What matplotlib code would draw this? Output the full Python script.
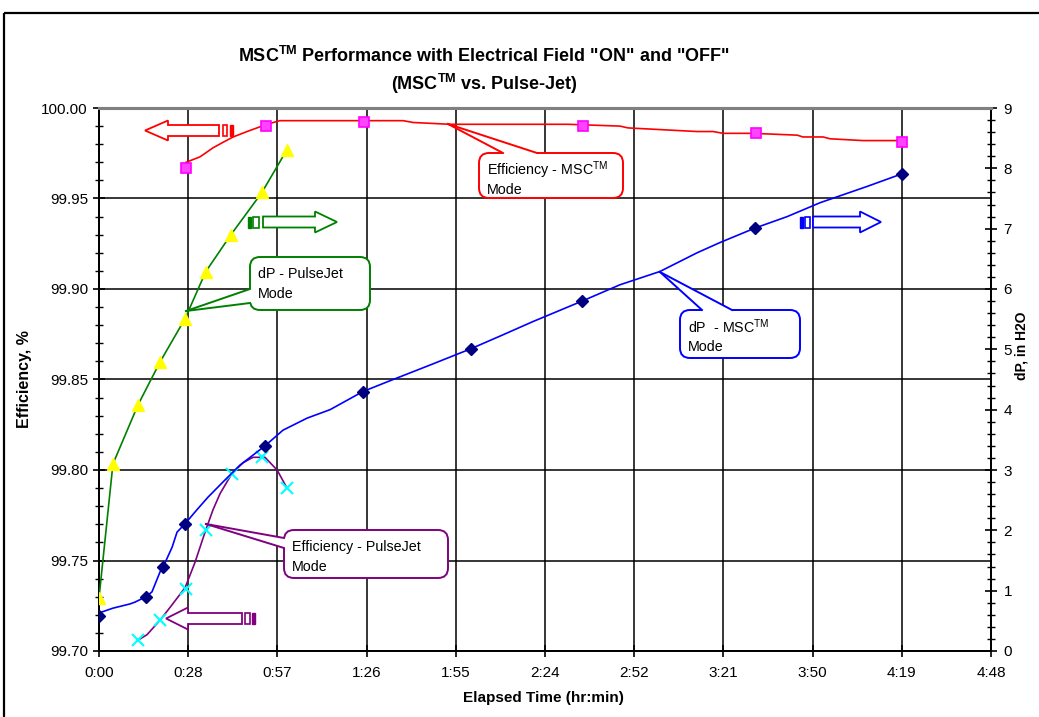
import numpy as np
import matplotlib
matplotlib.use('Agg')
import matplotlib.pyplot as plt
import matplotlib.transforms as mtransforms
from matplotlib.patches import FancyBboxPatch, Polygon, Rectangle
from matplotlib.lines import Line2D
from matplotlib.ticker import MultipleLocator, FixedLocator

plt.rcParams['font.family'] = ['Liberation Sans', 'DejaVu Sans']
plt.rcParams['mathtext.default'] = 'regular'

# elapsed time in minutes
# Efficiency - MSC mode (trace)
msc_eff_t = [28.1, 32.6, 36.8, 40.0, 43.3, 47.8, 54.2, 58.4, 98.2, 101.4, 113.3, 151.4,
             168.2, 170.8, 193.1, 198.3, 201.5, 211.2, 225.4, 227.3, 233.8, 236.0, 246.7, 259.3]
msc_eff = [99.970, 99.973, 99.978, 99.981, 99.984, 99.987, 99.991, 99.993, 99.993, 99.992,
           99.991, 99.991, 99.990, 99.989, 99.987, 99.987, 99.986, 99.986, 99.985, 99.984,
           99.984, 99.983, 99.982, 99.982]
msc_eff_mk_t = [28.1, 53.9, 85.6, 156.3, 212.0, 259.3]
msc_eff_mk = [99.967, 99.990, 99.992, 99.990, 99.986, 99.981]

# dP - MSC mode (trace)
msc_dp_t = [0, 4.5, 10, 11.6, 15.2, 17.1, 19.7, 21.3, 23.6, 25.2, 27.8, 31.6, 35.2, 40.0,
            45.5, 53.6, 59.4, 67.2, 74.6, 85.2, 93.0, 106.9, 120.1, 130.4, 140.1, 156.0,
            168.2, 181.1, 193.1, 200.5, 211.8, 222.2, 232.8, 248.0, 259.3]
msc_dp = [0.63, 0.71, 0.78, 0.81, 0.90, 0.98, 1.31, 1.46, 1.72, 1.97, 2.11, 2.34, 2.55, 2.80,
          3.08, 3.40, 3.66, 3.86, 4.00, 4.30, 4.46, 4.74, 5.01, 5.24, 5.46, 5.80, 6.07, 6.29,
          6.60, 6.77, 7.01, 7.20, 7.43, 7.70, 7.91]
msc_dp_mk_t = [0, 15.2, 20.7, 27.8, 53.6, 85.2, 120.1, 156.0, 211.8, 259.3]
msc_dp_mk = [0.58, 0.90, 1.39, 2.11, 3.40, 4.30, 5.01, 5.80, 7.01, 7.91]

# dP - PulseJet mode
pj_dp_t = [0, 4.5, 12.6, 19.7, 27.8, 34.5, 42.6, 52.6, 60.7]
pj_dp = [0.88, 3.10, 4.08, 4.79, 5.51, 6.29, 6.90, 7.60, 8.31]

# Efficiency - PulseJet mode (trace)
pj_eff_t = [12.6, 15.5, 19.7, 22.9, 27.8, 31.0, 34.5, 36.8, 39.1, 42.9, 46.5, 49.7, 53.6, 57.5, 60.7]
pj_eff = [99.706, 99.709, 99.717, 99.724, 99.735, 99.749, 99.767, 99.778, 99.787, 99.798,
          99.804, 99.807, 99.807, 99.800, 99.790]
pj_eff_mk_t = [12.6, 19.7, 28.1, 34.5, 42.9, 52.6, 60.7]
pj_eff_mk = [99.706, 99.717, 99.734, 99.767, 99.798, 99.807, 99.790]

x_labels = ['0:00', '0:28', '0:57', '1:26', '1:55', '2:24', '2:52', '3:21', '3:50', '4:19', '4:48']

W, H = 1039, 717
fig = plt.figure(figsize=(W / 100, H / 100), dpi=100)
# reference pixel coordinates (y down) for decorations
px = mtransforms.Affine2D().scale(1 / W, -1 / H).translate(0, 1) + fig.transFigure

ax = fig.add_axes([99 / W, 1 - 651 / H, 892 / W, 543 / H])
ax2 = ax.twinx()

ax.set_xlim(0, 288)
ax.set_ylim(99.70, 100.00)
ax2.set_ylim(0, 9)

ax.xaxis.set_major_locator(FixedLocator([i * 28.8 for i in range(len(x_labels))]))
ax.set_xticklabels(x_labels)
ax.yaxis.set_major_locator(MultipleLocator(0.05))
ax.yaxis.set_minor_locator(MultipleLocator(0.01))
ax.yaxis.set_major_formatter(matplotlib.ticker.FormatStrFormatter('%.2f'))
ax2.yaxis.set_major_locator(MultipleLocator(1))
ax2.yaxis.set_minor_locator(MultipleLocator(0.2))

ax.grid(True, which='major', color='black', lw=1.1)
ax.set_axisbelow(True)
for a in (ax, ax2):
    for s in a.spines.values():
        s.set_linewidth(1.3)
        s.set_color('black')
    a.spines['top'].set_color('#808080')
    a.spines['top'].set_linewidth(2.2)
ax.tick_params(axis='x', which='major', direction='inout', length=8, width=1.2, labelsize=11, pad=7)
ax.tick_params(axis='y', which='major', direction='inout', length=8, width=1.2, labelsize=11, pad=4)
ax.tick_params(axis='y', which='minor', direction='inout', length=6, width=1.0)
ax2.tick_params(axis='y', which='major', direction='inout', length=8, width=1.2, labelsize=11, pad=5)
ax2.tick_params(axis='y', which='minor', direction='inout', length=6, width=1.0)

# data
ax.plot(msc_eff_t, msc_eff, color='#ff0000', lw=1.2, zorder=3)
ax.plot(msc_eff_mk_t, msc_eff_mk, ls='none', marker='s', ms=7.5, mfc='#ff44ff', mec='#ff00ff', mew=1.2, zorder=4)
ax.plot(pj_eff_t, pj_eff, color='#800080', lw=1.2, zorder=3)
ax.plot(pj_eff_mk_t, pj_eff_mk, ls='none', marker='x', ms=8, mec='#00ffff', mew=1.5, zorder=4)

ax2.plot(msc_dp_t, msc_dp, color='#0000ff', lw=1.2, zorder=3)
ax2.plot(msc_dp_mk_t, msc_dp_mk, ls='none', marker='D', ms=6.5, mfc='#000080', mec='#000080', zorder=4)
ax2.plot(pj_dp_t, pj_dp, color='#008000', lw=1.2, marker='^', ms=8, mfc='#ffff00', mec='#ffff00', zorder=4)

# titles
fig.text(484, 56, 'MSC$^{TM}$ Performance with Electrical Field "ON" and "OFF"', transform=px,
         ha='center', va='center', fontsize=13, fontweight='bold')
fig.text(484, 84, '(MSC$^{TM}$ vs. Pulse-Jet)', transform=px,
         ha='center', va='center', fontsize=13, fontweight='bold')
fig.text(543, 698, 'Elapsed Time (hr:min)', transform=px, ha='center', va='center',
         fontsize=11, fontweight='bold')
fig.text(25, 379, 'Efficiency, %', transform=px, ha='center', va='center', rotation=90,
         fontsize=11.5, fontweight='bold')
fig.text(1022, 346, 'dP, in H2O', transform=px, ha='center', va='center', rotation=90,
         fontsize=10, fontweight='bold')

# outer chart border
fig.add_artist(Rectangle((4, 13), 1100, 800, transform=px, fill=False, ec='black', lw=1.6))


def block_arrow(tip, neck, tail, yc, hb, hh, color, hollow, filled):
    pts = [(tip, yc), (neck, yc - hh), (neck, yc - hb), (tail, yc - hb),
           (tail, yc + hb), (neck, yc + hb), (neck, yc + hh)]
    fig.add_artist(Polygon(pts, closed=True, transform=px, fc='white', ec=color, lw=1.3))
    fig.add_artist(Rectangle((hollow[0], yc - hb), hollow[1] - hollow[0], 2 * hb, transform=px,
                             fc='white', ec=color, lw=1.2))
    fig.add_artist(Rectangle((filled[0], yc - hb), filled[1] - filled[0], 2 * hb, transform=px,
                             fc=color, ec=color, lw=1.0))


block_arrow(145, 168, 219, 130.5, 5.5, 10, '#ff0000', (223, 227), (230, 233))
block_arrow(337, 315, 263, 222, 5.5, 10.5, '#008000', (253, 259), (248, 251))
block_arrow(881, 860, 813, 222, 5.5, 10.5, '#0000ff', (805, 810), (800, 803))
block_arrow(166, 188, 242, 618.5, 5.5, 11, '#800080', (245, 250), (252, 255))


def callout(box, tip, b1, b2, inner, color, lines):
    x0, y0, x1, y1 = box
    fig.add_artist(FancyBboxPatch((x0, y0), x1 - x0, y1 - y0, transform=px,
                                  boxstyle='round,pad=0,rounding_size=10',
                                  fc='white', ec=color, lw=1.4))
    fig.add_artist(Polygon([b1, tip, b2] + inner, closed=True, transform=px, fc='white', ec='none'))
    for b in (b1, b2):
        fig.add_artist(Line2D([tip[0], b[0]], [tip[1], b[1]], transform=px, color=color, lw=1.4))
    for i, s in enumerate(lines):
        fig.text(x0 + 8, y0 + 17 + 20 * i, s, transform=px, ha='left', va='center', fontsize=10.3)


callout((479, 153, 623, 198), (448, 124), (503, 153), (537, 153),
        [(537, 156), (503, 156)], '#ff0000', ['Efficiency - MSC$^{TM}$', 'Mode'])
callout((250, 257, 370, 310), (186, 311), (250, 289), (250, 303),
        [(253, 303), (253, 289)], '#008000', ['dP - PulseJet', 'Mode'])
callout((680, 310, 800, 358), (660, 272), (702, 310), (732, 310),
        [(732, 313), (702, 313)], '#0000ff', ['dP  - MSC$^{TM}$', 'Mode'])
callout((284, 530, 448, 578), (206, 524), (284, 538), (284, 548),
        [(287, 548), (287, 538)], '#800080', ['Efficiency - PulseJet', 'Mode'])

fig.savefig('out.png', dpi=100)
